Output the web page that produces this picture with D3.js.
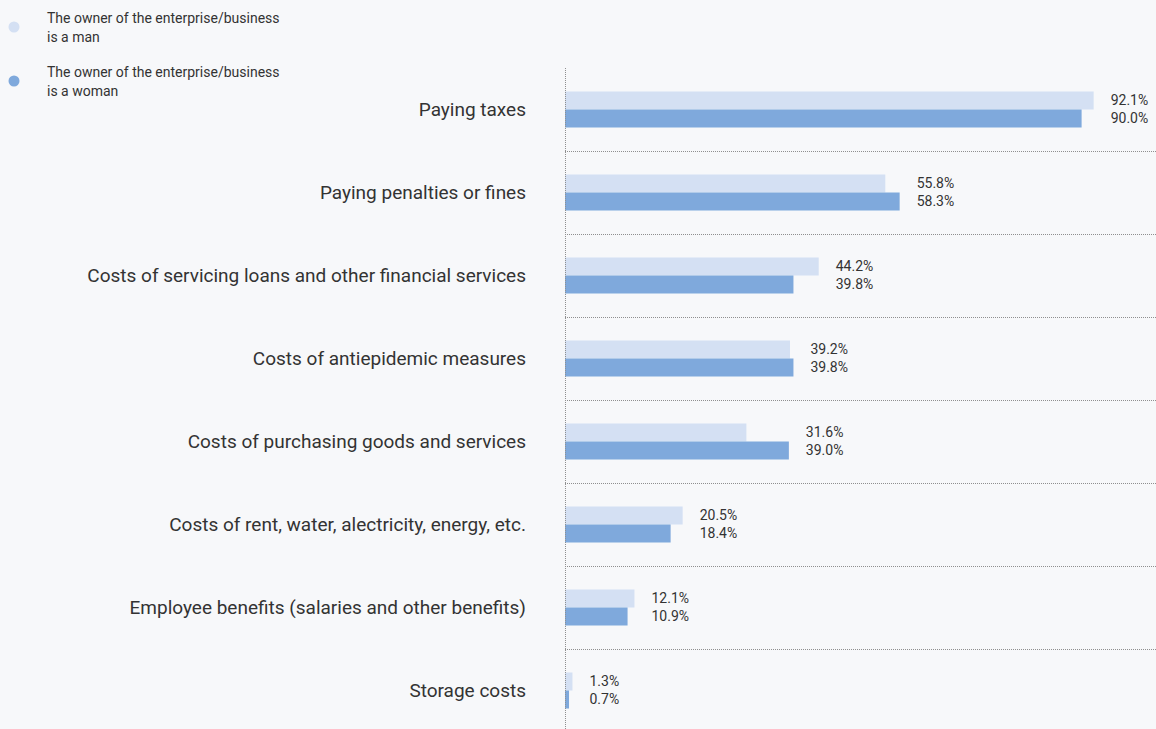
<!DOCTYPE html>
<html>
<head>
<meta charset="utf-8">
<script src="https://cdn.jsdelivr.net/npm/d3@7"></script>
<style>
  html, body { margin: 0; padding: 0; background: #f7f8fa; }
  svg { display: block; font-family: Roboto, "Noto Sans", sans-serif; }
</style>
</head>
<body>
<div id="chart"></div>
<script>
// Categories of business expenses
const categories = [
  "Paying taxes",
  "Paying penalties or fines",
  "Costs of servicing loans and other financial services",
  "Costs of antiepidemic measures",
  "Costs of purchasing goods and services",
  "Costs of rent, water, alectricity, energy, etc.",
  "Employee benefits (salaries and other benefits)",
  "Storage costs"
];
// Share of enterprises, %
const menValues   = [92.1, 55.8, 44.2, 39.2, 31.6, 20.5, 12.1, 1.3];
const womenValues = [90.0, 58.3, 39.8, 39.8, 39.0, 18.4, 10.9, 0.7];
const seriesNames = [
  ["The owner of the enterprise/business", "is a man"],
  ["The owner of the enterprise/business", "is a woman"]
];
const seriesColors = ["#d4e0f3", "#7fa9dc"];

const W = 1156, H = 729;
const svg = d3.select("#chart").append("svg").attr("width", W).attr("height", H);

const x0 = 565;
const x = d3.scaleLinear().domain([0, 100]).range([x0, x0 + 574]);
const y = d3.scaleBand().domain(categories).range([68, 732]).paddingInner(0).paddingOuter(0);
const barH = 18;

const lineColor = "#8f8f8f";

// category separators
svg.append("g").selectAll("line")
  .data(categories.slice(1))
  .join("line")
  .attr("x1", x0).attr("x2", W)
  .attr("y1", d => Math.round(y(d)) + 0.5).attr("y2", d => Math.round(y(d)) + 0.5)
  .attr("stroke", lineColor).attr("stroke-width", 1).attr("stroke-dasharray", "1,1");

const rows = categories.map((c, i) => ({ c, m: menValues[i], w: womenValues[i] }));

const g = svg.append("g").selectAll("g").data(rows).join("g")
  .attr("transform", d => `translate(0,${y(d.c) + y.bandwidth() / 2})`);

g.append("rect")
  .attr("x", x(0)).attr("y", -barH)
  .attr("width", d => x(d.m) - x(0)).attr("height", barH)
  .attr("fill", seriesColors[0]);
g.append("rect")
  .attr("x", x(0)).attr("y", 0)
  .attr("width", d => x(d.w) - x(0)).attr("height", barH)
  .attr("fill", seriesColors[1]);

// category labels
g.append("text")
  .attr("x", 526).attr("y", 0).attr("dy", "0.35em")
  .attr("text-anchor", "end")
  .attr("font-size", 19).attr("fill", "#333")
  .text(d => d.c);

// value labels
g.append("text")
  .attr("x", d => x(Math.max(d.m, d.w)) + 17).attr("y", -barH / 2).attr("dy", "0.3em")
  .attr("font-size", 14).attr("fill", "#333")
  .text(d => d.m.toFixed(1) + "%");
g.append("text")
  .attr("x", d => x(Math.max(d.m, d.w)) + 17).attr("y", barH / 2).attr("dy", "0.3em")
  .attr("font-size", 14).attr("fill", "#333")
  .text(d => d.w.toFixed(1) + "%");

// vertical axis line
svg.append("line")
  .attr("x1", x0 + 0.5).attr("x2", x0 + 0.5).attr("y1", 68).attr("y2", H)
  .attr("stroke", lineColor).attr("stroke-width", 1).attr("stroke-dasharray", "1,1");

// legend
const leg = svg.append("g").selectAll("g").data(seriesNames).join("g")
  .attr("transform", (d, i) => `translate(0,${i * 54})`);
leg.append("circle").attr("cx", 14).attr("cy", 27).attr("r", 5.5)
  .attr("fill", (d, i) => seriesColors[i]);
leg.append("text").attr("x", 47).attr("y", 23).attr("font-size", 14).attr("fill", "#333")
  .text(d => d[0]);
leg.append("text").attr("x", 47).attr("y", 42).attr("font-size", 14).attr("fill", "#333")
  .text(d => d[1]);
</script>
</body>
</html>
